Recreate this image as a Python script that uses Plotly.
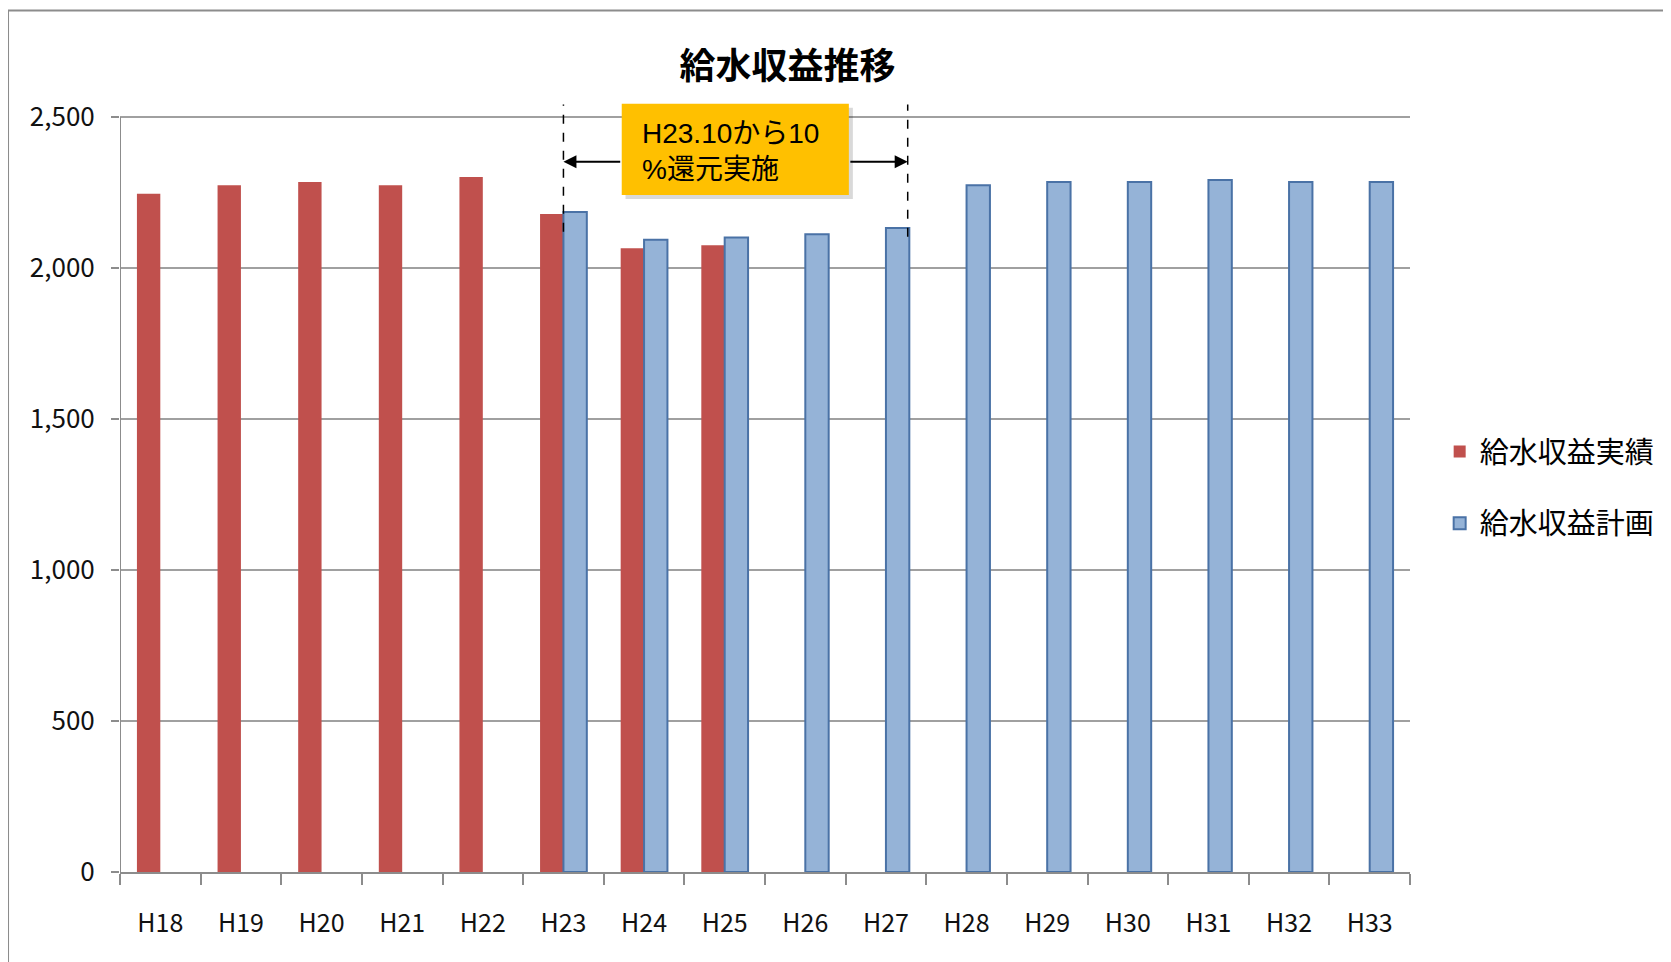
import plotly.graph_objects as go

categories = ["H18", "H19", "H20", "H21", "H22", "H23", "H24", "H25",
              "H26", "H27", "H28", "H29", "H30", "H31", "H32", "H33"]
actual = [2246, 2274, 2285, 2274, 2302, 2179, 2066, 2076,
          None, None, None, None, None, None, None, None]
plan = [None, None, None, None, None, 2186, 2094, 2101,
        2112, 2133, 2274, 2285, 2285, 2292, 2285, 2285]
series_names = ["給水収益実績", "給水収益計画"]
title_text = "給水収益推移"
note_text = "H23.10から10<br>%還元実施"
y_ticks = [0, 500, 1000, 1500, 2000, 2500]

CJK = "Noto Sans CJK JP"

fig = go.Figure()
fig.add_trace(go.Bar(x=categories, y=actual, name=series_names[0],
                     marker=dict(color="#C0504D", line=dict(color="#C0504D", width=0)),
                     legendgroup="a"))
fig.add_trace(go.Bar(x=categories, y=plan, name=series_names[1],
                     marker=dict(color="#95B3D7", line=dict(color="#4A72A6", width=2)),
                     legendgroup="b"))

fig.update_layout(
    width=1671, height=962,
    margin=dict(l=112, r=269, t=91, b=98, autoexpand=False),
    paper_bgcolor="white", plot_bgcolor="white",
    barmode="group", bargap=0.42, bargroupgap=0,
    title=dict(text="<b>" + title_text + "</b>", x=0.4665, xanchor="center", y=0.9397, yanchor="middle",
               font=dict(family=CJK, size=36, color="#000000")),
    font=dict(family=CJK, color="#000000"),
    legend=dict(x=1.023, xanchor="left", y=0.4973, yanchor="middle",
                font=dict(family=CJK, size=29, color="#000000"),
                tracegroupgap=31, itemwidth=30, bgcolor="rgba(0,0,0,0)"),
    showlegend=True,
)

fig.update_xaxes(type="category", range=[-0.5, 15.5], showgrid=False,
                 showline=True, linecolor="#8C8C8C", linewidth=2,
                 ticks="outside", tickson="boundaries", ticklen=11, tickcolor="#8C8C8C", tickwidth=2,
                 tickfont=dict(family=CJK, size=25, color="#111111"),
                 ticklabelstandoff=28)
fig.update_yaxes(range=[0, 2560], tickvals=y_ticks, tickformat=",",
                 showgrid=True, gridcolor="#A0A0A0", gridwidth=2,
                 showline=False,
                 ticks="outside", ticklen=8, tickcolor="#8C8C8C", tickwidth=2,
                 tickfont=dict(family=CJK, size=26, color="#111111"),
                 ticklabelstandoff=11, zeroline=False)

# y axis line (stops at top gridline)
fig.add_shape(type="line", xref="x", yref="y", x0=-0.5, x1=-0.5, y0=0, y1=y_ticks[-1],
              line=dict(color="#8C8C8C", width=2))

# outer frame
fig.add_shape(type="rect", xref="paper", yref="paper", x0=-0.0868, x1=1.25, y0=-0.2, y1=1.1144,
              line=dict(color="#8C8C8C", width=2), fillcolor="rgba(0,0,0,0)", layer="below")

# dashed vertical markers
fig.add_shape(type="line", xref="x", yref="y", x0=5, x1=5, y0=2120, y1=2542,
              line=dict(color="#000000", width=1.5, dash="dash"))
fig.add_shape(type="line", xref="x", yref="y", x0=9.27, x1=9.27, y0=2104, y1=2542,
              line=dict(color="#000000", width=1.5, dash="dash"))

# soft shadow of note box
fig.add_shape(type="rect", xref="x", yref="y", x0=5.77, x1=8.59, y0=2229, y1=2531,
              line=dict(width=0), fillcolor="rgba(0,0,0,0.15)")
# note box
fig.add_shape(type="rect", xref="x", yref="y", x0=5.723, x1=8.54, y0=2242, y1=2544,
              line=dict(width=0), fillcolor="#FFC000")

# arrows from box edges out to the dashed markers
fig.add_annotation(x=5, y=2352, ax=5.723, ay=2352, xref="x", yref="y", axref="x", ayref="y",
                   text="", showarrow=True, arrowhead=2, arrowsize=1.3, arrowwidth=2,
                   arrowcolor="#000000", standoff=0, startstandoff=0)
fig.add_annotation(x=9.27, y=2352, ax=8.54, ay=2352, xref="x", yref="y", axref="x", ayref="y",
                   text="", showarrow=True, arrowhead=2, arrowsize=1.3, arrowwidth=2,
                   arrowcolor="#000000", standoff=0, startstandoff=0)

# note text
fig.add_annotation(x=5.95, y=2386, xref="x", yref="y", text=note_text, showarrow=False,
                   align="left", xanchor="left", yanchor="middle",
                   font=dict(family="Liberation Sans, " + CJK, size=28, color="#000000"))

fig.write_html("out.html")
